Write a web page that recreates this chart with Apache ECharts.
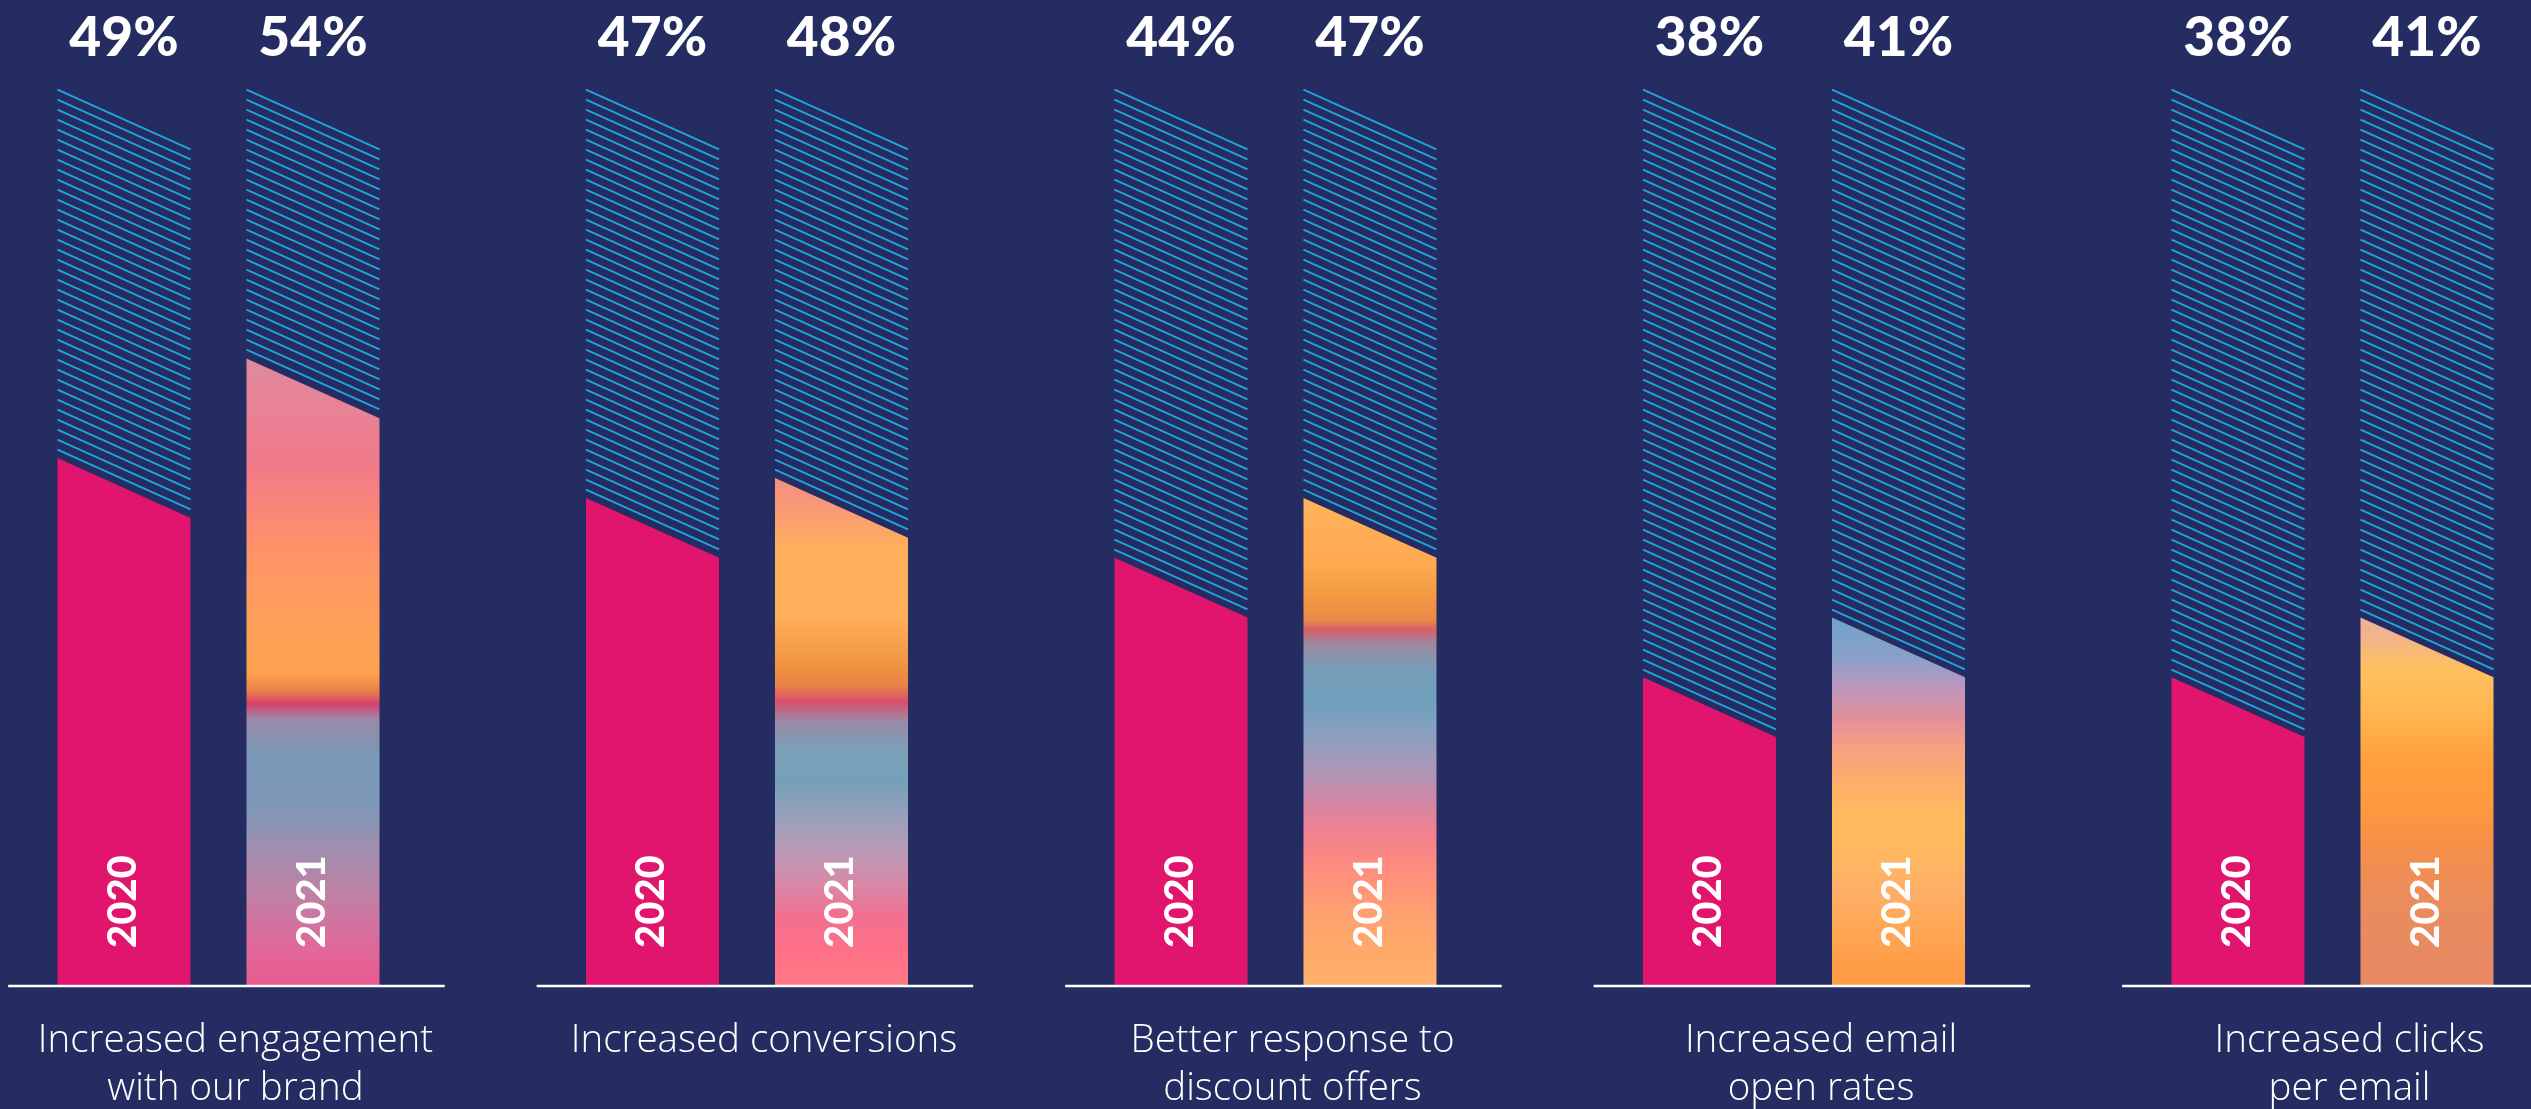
<!DOCTYPE html>
<html><head><meta charset="utf-8">
<script src="https://cdn.jsdelivr.net/npm/echarts@6/dist/echarts.min.js"></script>
<style>html,body{margin:0;padding:0;background:#242c61;overflow:hidden}#c{width:2531px;height:1109px}</style>
</head><body><div id="c"></div>
<script>
// ---- data ----
const categories = ['Increased engagement\nwith our brand', 'Increased conversions', 'Better response to\ndiscount offers', 'Increased email\nopen rates', 'Increased clicks\nper email'];
const years = ['2020', '2021'];
const values2020 = [49, 47, 44, 38, 38];
const values2021 = [54, 48, 47, 41, 41];

// ---- styles ----
const BG = '#242c61';
const COLOR_2020 = '#e1146e';
const HATCH = '#1fa5de';
const Y_MIN = 24, Y_MAX = 67.5;
const BAR_OFFSET = 0.1788;   // fraction of group band
const BAR_WIDTH = 0.2517;    // fraction of group band
const SLANT = 0.45;          // drop of top edge relative to bar width
const HATCH_GAP = 10;
const grad2021 = [
  [[0,'#e0899f'],[0.17,'#f07a8a'],[0.30,'#ff9268'],[0.42,'#ffa05a'],[0.50,'#ffa24f'],[0.53,'#e8804a'],[0.55,'#d8406c'],[0.575,'#9a8aa8'],[0.63,'#7a98b8'],[0.71,'#7e98b8'],[0.77,'#9a90b0'],[0.855,'#c080a5'],[0.94,'#e0689a'],[1,'#e85a8f']],
  [[0,'#f58e80'],[0.04,'#f8967a'],[0.14,'#ffae5c'],[0.27,'#ffae5a'],[0.37,'#f0943f'],[0.41,'#e88048'],[0.44,'#d8506e'],[0.48,'#9a8aa6'],[0.54,'#7aa0b8'],[0.60,'#76a0ba'],[0.67,'#9aa0bb'],[0.73,'#b89ab8'],[0.80,'#d888a8'],[0.86,'#f07090'],[0.93,'#ff7088'],[1,'#ff7a86']],
  [[0,'#ffb45c'],[0.14,'#ffa850'],[0.20,'#f39a42'],[0.25,'#e88a48'],[0.27,'#d8606a'],[0.30,'#9a8aa0'],[0.35,'#7a9cb8'],[0.41,'#6ea0bc'],[0.48,'#88a0c0'],[0.55,'#a898b8'],[0.62,'#d088a8'],[0.68,'#f08090'],[0.75,'#ff8a80'],[0.85,'#ffa070'],[0.95,'#ffac68'],[1,'#ffb070']],
  [[0,'#6fa2c8'],[0.11,'#8aa0c8'],[0.18,'#b898c0'],[0.27,'#e0909c'],[0.36,'#f8a080'],[0.46,'#ffb068'],[0.55,'#ffbc5c'],[0.64,'#ffb860'],[0.75,'#ffae68'],[0.84,'#ffa855'],[0.93,'#ff9e48'],[1,'#ff9a44']],
  [[0,'#eeb294'],[0.04,'#f0b290'],[0.14,'#ffc060'],[0.26,'#ffb650'],[0.38,'#ffa040'],[0.51,'#ff9a3e'],[0.61,'#f59048'],[0.76,'#eb8c5c'],[0.91,'#e88a62'],[1,'#e88866']]
];

function barSeries(yearIdx, values) {
  return {
    type: 'custom',
    name: years[yearIdx],
    coordinateSystem: 'cartesian2d',
    data: values.map((v, i) => [i, v]),
    renderItem: function (params, api) {
      const gi = api.value(0), v = api.value(1);
      const pt = api.coord([gi, v]);
      const base = api.coord([gi, Y_MIN])[1];
      const top = api.coord([gi, Y_MAX])[1];
      const band = api.size([1, 0])[0];
      const w = band * BAR_WIDTH;
      const cx = pt[0] + (yearIdx === 0 ? -1 : 1) * BAR_OFFSET * band;
      const x0 = cx - w / 2, x1 = cx + w / 2;
      const s = w * SLANT;
      const barLeftY = pt[1] - s / 2;
      const children = [];
      // hatched full-scale track
      for (let y = top - s / 2; y < barLeftY + 1 && y <= base - s; y += HATCH_GAP) {
        children.push({ type: 'line', shape: { x1: x0, y1: y, x2: x1, y2: y + s }, style: { stroke: HATCH, lineWidth: 2, lineCap: 'butt' } });
      }
      const fill = yearIdx === 0 ? COLOR_2020 : {
        type: 'linear', x: 0, y: 0, x2: 0, y2: 1, global: false,
        colorStops: grad2021[gi].map(st => ({ offset: st[0], color: st[1] }))
      };
      children.push({ type: 'polygon', shape: { points: [[x0, barLeftY], [x1, pt[1] + s / 2], [x1, base], [x0, base]] }, style: { fill: fill } });
      children.push({ type: 'text', x: cx, y: top - s / 2 - 51, style: { text: v + '%', fill: '#ffffff', fontSize: 55, fontWeight: 900, fontFamily: 'Lato', align: 'center', verticalAlign: 'middle' } });
      children.push({ type: 'text', x: cx - 1, y: base - 38, rotation: Math.PI / 2, style: { text: years[yearIdx], fill: '#ffffff', fontSize: 40, fontWeight: 900, fontFamily: 'Lato', align: 'left', verticalAlign: 'middle' } });
      return { type: 'group', children: children };
    }
  };
}

const chart = echarts.init(document.getElementById('c'), null, { width: 2531, height: 1109 });
chart.setOption({
  animation: false,
  backgroundColor: BG,
  grid: { left: -45.75, right: -65.75, top: 119.5, bottom: 123, containLabel: false, outerBoundsMode: 'none' },
  xAxis: {
    type: 'category', data: categories,
    axisLine: { show: false }, axisTick: { show: false }, splitLine: { show: false },
    axisLabel: { interval: 0, color: '#ffffff', fontSize: 38.5, fontFamily: 'Open Sans', fontWeight: 300, lineHeight: 48, margin: 31, padding: [0, 0, 0, 34], verticalAlign: 'top', hideOverlap: false }
  },
  yAxis: { type: 'value', min: Y_MIN, max: Y_MAX, show: false, splitLine: { show: false } },
  series: [
    barSeries(0, values2020),
    barSeries(1, values2021),
    {
      type: 'custom', name: 'baseline', coordinateSystem: 'cartesian2d', z: 5,
      data: categories.map((c, i) => [i, Y_MIN]),
      renderItem: function (params, api) {
        const p = api.coord([api.value(0), api.value(1)]);
        const band = api.size([1, 0])[0];
        return { type: 'line', shape: { x1: p[0] - band * 0.398, y1: p[1], x2: p[0] + band * 0.428, y2: p[1] }, style: { stroke: '#ffffff', lineWidth: 2.5 } };
      }
    }
  ]
});
</script></body></html>
